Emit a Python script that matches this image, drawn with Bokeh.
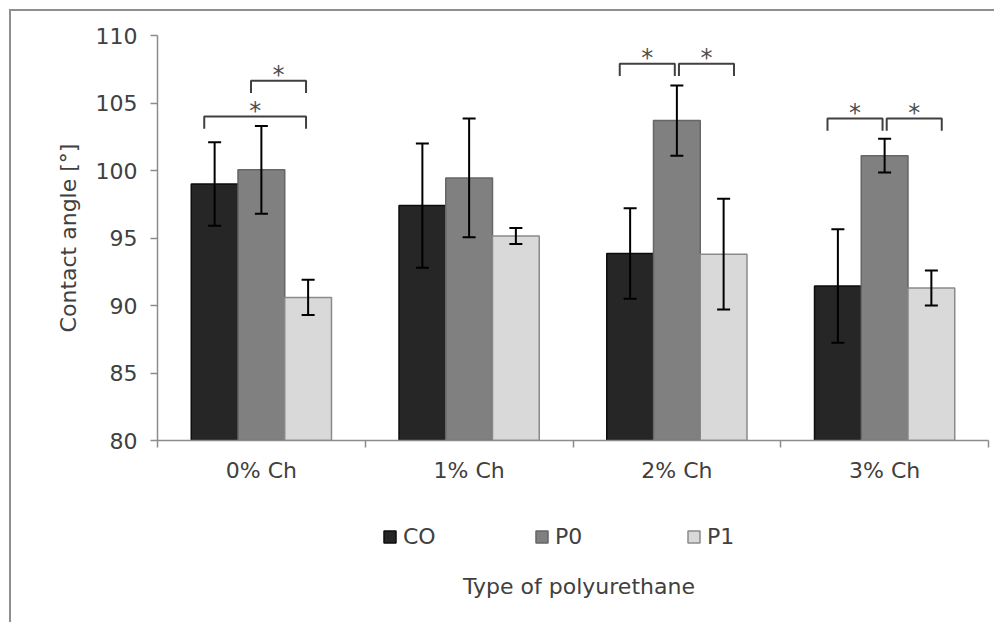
import numpy as np
from bokeh.plotting import figure
from bokeh.layouts import column
from bokeh.models import (Range1d, FixedTicker, ColumnDataSource, Whisker, TeeHead,
                          Legend, LegendItem, LinearAxis, Label)
from bokeh.embed import file_html
from bokeh.resources import INLINE
from bokeh.core.properties import value

# ---- data ----
categories = ["0% Ch", "1% Ch", "2% Ch", "3% Ch"]
series_names = ["CO", "P0", "P1"]
co_mean = [99.0, 97.4, 93.85, 91.45]
co_err = [3.1, 4.6, 3.35, 4.2]
p0_mean = [100.05, 99.45, 103.7, 101.1]
p0_err = [3.25, 4.4, 2.6, 1.25]
p1_mean = [90.6, 95.15, 93.8, 91.3]
p1_err = [1.3, 0.6, 4.1, 1.3]
y_ticks = [80, 85, 90, 95, 100, 105, 110]
x_title = "Type of polyurethane"
y_title = "Contact angle [°]"

# significance brackets: group index, series a, series b, bracket level, side
sig_group = [0, 0, 2, 2, 3, 3]
sig_a = [0, 1, 0, 1, 0, 1]
sig_b = [2, 2, 1, 2, 1, 2]
sig_level = [104.0, 106.65, 107.9, 107.9, 103.85, 103.85]
sig_side = ["L", "L", "L", "R", "L", "R"]

# ---- styling ----
FONT = "DejaVu Sans"
FS = "22px"
TXT = "#404040"
AXIS = "#8c8c8c"
fills = ["#262626", "#808080", "#d9d9d9"]
lines = ["#0d0d0d", "#666666", "#8a8a8a"]
bar_w = 0.225
offsets = [-bar_w, 0.0, bar_w]
y0, y1 = y_ticks[0], y_ticks[-1]
ncat = len(categories)

p = figure(frame_width=831, frame_height=405, x_range=Range1d(0, ncat),
           y_range=Range1d(y0, y1), output_backend="svg", toolbar_location=None,
           x_axis_location=None,
           min_border_left=146, min_border_right=6, min_border_top=24,
           min_border_bottom=50)
p.outline_line_color = None
p.xgrid.visible = False
p.ygrid.visible = False
p.background_fill_color = "white"
p.border_fill_color = "white"

means = [co_mean, p0_mean, p1_mean]
errs = [co_err, p0_err, p1_err]
for i, name in enumerate(series_names):
    xs = [g + 0.5 + offsets[i] for g in range(ncat)]
    src = ColumnDataSource(dict(
        x=xs, top=means[i],
        upper=[m + e for m, e in zip(means[i], errs[i])],
        lower=[m - e for m, e in zip(means[i], errs[i])]))
    p.vbar(x="x", top="top", bottom=y0, width=bar_w, source=src,
           fill_color=fills[i], line_color=lines[i], line_width=1.5)
    wh = Whisker(base="x", upper="upper", lower="lower", source=src,
                 dimension="height", line_color="black", line_width=2,
                 level="annotation",
                 upper_head=TeeHead(size=13, line_color="black", line_width=2),
                 lower_head=TeeHead(size=13, line_color="black", line_width=2))
    p.add_layout(wh)

# significance brackets
bxs, bys, sx, sy = [], [], [], []
leg = 0.9
for g, a, b, h, side in zip(sig_group, sig_a, sig_b, sig_level, sig_side):
    ca = g + 0.5 + offsets[a]
    cb = g + 0.5 + offsets[b]
    if side == "L":
        left, right = ca - 0.05, cb - 0.01
    else:
        left, right = ca + 0.01, cb + 0.05
    bxs.append([left, left, right, right])
    bys.append([h - leg, h, h, h - leg])
    sx.append((left + right) / 2)
    sy.append(h)
p.multi_line(xs=bxs, ys=bys, line_color="#404040", line_width=2)
p.text(x=sx, y=sy, text=["*"] * len(sx), text_align="center",
       text_baseline="alphabetic", y_offset=-6, text_font=value(FONT),
       text_font_size="24px", text_color="#4d4d4d")

# x axis: labels at category centres, tick marks at category boundaries
xa = LinearAxis()
xa.ticker = FixedTicker(ticks=[g + 0.5 for g in range(ncat)],
                        minor_ticks=list(range(ncat + 1)))
xa.major_label_overrides = {g + 0.5: c for g, c in enumerate(categories)}
xa.major_tick_line_color = None
xa.major_tick_out = 7
xa.major_tick_in = 0
xa.minor_tick_out = 7
xa.minor_tick_in = 0
xa.minor_tick_line_color = AXIS
xa.minor_tick_line_width = 1.5
xa.major_label_standoff = 10
p.add_layout(xa, "below")

ya = p.yaxis[0]
ya.ticker = FixedTicker(ticks=y_ticks, minor_ticks=[])
ya.major_tick_out = 7
ya.major_tick_in = 0
ya.major_tick_line_color = AXIS
ya.major_tick_line_width = 1.5
ya.major_label_standoff = 13
ya.axis_label = y_title
ya.axis_label_standoff = 12

for ax in (xa, ya):
    ax.axis_line_color = AXIS
    ax.axis_line_width = 1.5
    ax.major_label_text_font = FONT
    ax.major_label_text_font_size = FS
    ax.major_label_text_color = TXT
    ax.axis_label_text_font = FONT
    ax.axis_label_text_font_size = FS
    ax.axis_label_text_color = TXT
    ax.axis_label_text_font_style = "normal"

# ---- legend strip + x title below the chart ----
q = figure(frame_width=831, height=132, x_range=Range1d(0, ncat), y_range=Range1d(0, 1),
           output_backend="svg", toolbar_location=None,
           x_axis_location=None, y_axis_location=None,
           min_border_left=146, min_border_right=6, min_border_top=0, min_border_bottom=0)
q.outline_line_color = None
q.xgrid.visible = False
q.ygrid.visible = False
q.background_fill_color = "white"
q.border_fill_color = "white"

# legend-only swatch renderers (NaN data: nothing drawn, only the legend swatch)
leg_renderers = []
for i, name in enumerate(series_names):
    r = q.vbar(x=np.array([np.nan]), top=np.array([np.nan]), bottom=y0, width=bar_w,
               fill_color=fills[i], line_color=lines[i], line_width=1.5)
    leg_renderers.append(r)

legend = Legend(items=[LegendItem(label=n, renderers=[r]) for n, r in zip(series_names, leg_renderers)],
                orientation="horizontal", location=(225, 73),
                glyph_width=15, glyph_height=15, label_standoff=6,
                label_width=56, spacing=75, padding=0, margin=0,
                border_line_color=None, background_fill_alpha=0,
                label_text_font=FONT, label_text_font_size=FS,
                label_text_color=TXT)
q.add_layout(legend)

q.add_layout(Label(x=ncat / 2, y=0.27, text=x_title, text_align="center",
                   text_baseline="middle", x_offset=6, text_font=FONT,
                   text_font_size=FS, text_color=TXT))

layout = column(p, q, spacing=0)
layout.styles = {"margin-left": "9px", "margin-top": "9px",
                 "border-top": "2px solid #8f8f8f", "border-left": "2px solid #8f8f8f"}

open("out.html", "w").write(file_html(layout, INLINE))
